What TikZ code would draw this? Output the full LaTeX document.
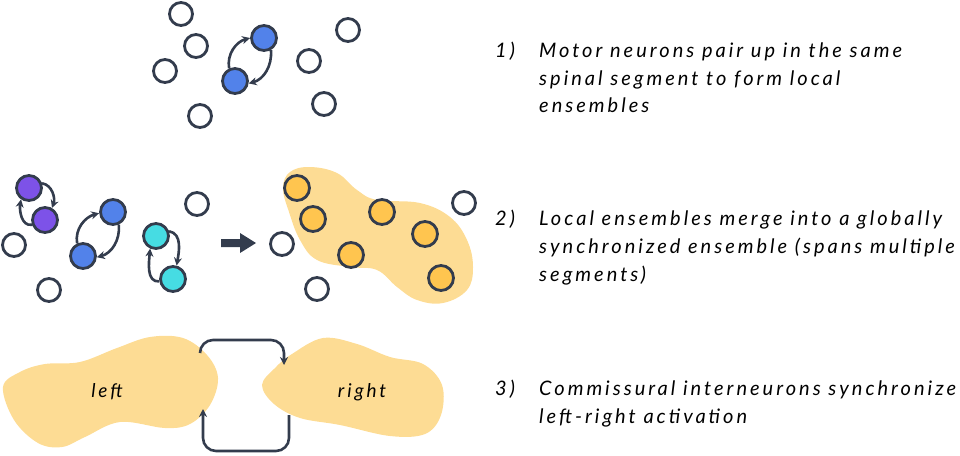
\documentclass[tikz,border=0pt]{standalone}
\usepackage{fontspec}
\newfontfamily\hand{Lato}[LetterSpace=15]
\usetikzlibrary{arrows.meta}
\definecolor{ink}{HTML}{333C4D}
\definecolor{nblue}{HTML}{5282EA}
\definecolor{npurple}{HTML}{7D52E8}
\definecolor{ncyan}{HTML}{46DCE3}
\definecolor{norange}{HTML}{FFC54F}
\definecolor{blobc}{HTML}{FDDC94}
\tikzset{
  neuron/.style={circle, draw=ink, line width=2.8pt, minimum size=23pt, inner sep=0pt, fill=white},
  act/.style={neuron, minimum size=25pt},
  arr/.style={draw=ink, line width=2.6pt, -{Stealth[length=8pt,width=8pt]}},
  txt/.style={anchor=base west, inner sep=0pt, font=\hand\itshape\fontsize{20}{24}\selectfont, text=black},
  lbl/.style={inner sep=0pt, font=\hand\itshape\fontsize{19}{24}\selectfont, text=black}
}
\begin{document}
\begin{tikzpicture}[x=1pt,y=-1pt]
\useasboundingbox (0,0) rectangle (960,455);
% ---- panel 1
\node[neuron] (a1) at (181,14) {};
\node[neuron] (a2) at (196,46) {};
\node[neuron] (a3) at (165,71) {};
\node[neuron] (a4) at (200,116) {};
\node[neuron] (a5) at (309,61) {};
\node[neuron] (a6) at (348,30) {};
\node[neuron] (a7) at (324,104) {};
\node[act, fill=nblue] (b1) at (264,38) {};
\node[act, fill=nblue] (b2) at (235,81) {};
\draw[arr] (b2.115) to[out=100,in=195] (b1.180);
\draw[arr] (b1.-60) to[out=-85,in=15] (b2.-10);
% ---- panel 2
\fill[blobc] plot[smooth cycle, tension=0.65] coordinates {
 (283,188) (290,172) (310,167) (337,173) (357,190) (377,200) (420,203) (450,217)
 (467,240) (473,267) (467,290) (443,303) (417,300) (397,287) (377,270) (350,267)
 (317,260) (300,240) (289,212)};
\node[act, fill=npurple] (p1) at (29,188) {};
\node[act, fill=npurple] (p2) at (45,220) {};
\draw[arr] (p1.20) to[out=-10,in=70] (p2.60);
\draw[arr] (p2.200) to[out=190,in=-100] (p1.235);
\node[act, fill=nblue] (q1) at (113,212) {};
\node[act, fill=nblue] (q2) at (83,256) {};
\draw[arr] (q2.115) to[out=100,in=195] (q1.185);
\draw[arr] (q1.-65) to[out=-85,in=15] (q2.-5);
\node[act, fill=ncyan] (r1) at (156,236) {};
\node[act, fill=ncyan] (r2) at (173,279) {};
\draw[arr] (r1.20) to[out=-10,in=80] (r2.75);
\draw[arr] (r2.190) to[out=185,in=-95] (r1.245);
\node[neuron] (w1) at (14,245) {};
\node[neuron] (w2) at (49,290) {};
\node[neuron] (w3) at (197,204) {};
\node[neuron] (w4) at (282,244) {};
\node[neuron] (w5) at (317,289) {};
\node[neuron] (w6) at (464,203) {};
\node[act, fill=norange] (o1) at (297,188) {};
\node[act, fill=norange] (o2) at (313,219) {};
\node[act, fill=norange] (o3) at (382,212) {};
\node[act, fill=norange] (o4) at (351,255) {};
\node[act, fill=norange] (o5) at (425,234) {};
\node[act, fill=norange] (o6) at (441,278) {};
\fill[ink] (221,239) -- (240,239) -- (240,233) -- (256,243) -- (240,253) -- (240,247) -- (221,247) -- cycle;
% ---- panel 3
\fill[blobc] plot[smooth cycle, tension=0.6] coordinates {
 (3,387) (20,372) (45,364) (80,362) (117,348) (150,337) (183,338) (207,355) (218,378)
 (210,405) (190,424) (165,428) (120,422) (85,437) (62,447) (38,443) (14,420)};
\fill[blobc] plot[smooth cycle, tension=0.6] coordinates {
 (262,385) (275,368) (292,354) (323,338) (357,344) (390,357) (423,364) (442,385)
 (441,415) (425,434) (390,436) (340,425) (300,418) (274,404)};
\node[lbl] (left) at (107,392) {left};
\node[lbl] (right) at (362,392) {right};
\coordinate (ta) at (200,353);
\coordinate (tb) at (284,365);
\coordinate (ba) at (289,415);
\coordinate (bb) at (203,409);
\draw[arr, rounded corners=13pt] (ta) -- (200,340) -- (284,340) -- (tb);
\draw[arr, rounded corners=13pt] (ba) -- (289,451) -- (203,451) -- (bb);
% ---- text
\node[txt] (n1) at (495,57.5) {1)};
\node[txt] (l1a) at (539,57.5) {Motor neurons pair up in the same};
\node[txt] (l1b) at (539,85) {spinal segment to form local};
\node[txt] (l1c) at (539,112.5) {ensembles};
\node[txt] (n2) at (495,225.5) {2)};
\node[txt] (l2a) at (539,225.5) {Local ensembles merge into a globally};
\node[txt] (l2b) at (539,253.5) {synchronized ensemble (spans multiple};
\node[txt] (l2c) at (539,281) {segments)};
\node[txt] (n3) at (495,395) {3)};
\node[txt] (l3a) at (539,395) {Commissural interneurons synchronize};
\node[txt] (l3b) at (539,423) {left-right activation};
\end{tikzpicture}
\end{document}
